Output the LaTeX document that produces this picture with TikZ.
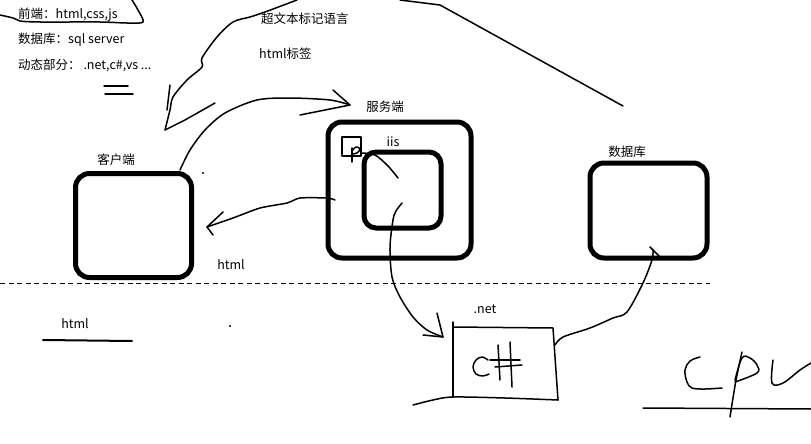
\documentclass[tikz,border=0pt]{standalone}
\usepackage{fontspec}
\setmainfont{Noto Sans CJK SC}
\begin{document}
\begin{tikzpicture}[x=1pt,y=-1pt,
  box/.style={draw, line width=5pt, rounded corners=14pt, inner sep=0pt},
  lbl/.style={font=\fontsize{12.5}{14}\selectfont, inner sep=0pt, anchor=west},
  pen/.style={line width=1.5pt, line cap=round, line join=round},
]
\useasboundingbox (0,0) rectangle (811,444);

% legend text
\node[lbl] (front) at (18,15) {前端：html,css,js};
\node[lbl] (db) at (18,40) {数据库：sql server};
\node[lbl] (dyn) at (18,65) {动态部分： .net,c\#,vs ...};
\node[lbl] (hyper) at (261,19) {超文本标记语言};
\node[lbl] (tag) at (259,54) {html标签};

% boxes
\node[box, minimum width=116pt, minimum height=104pt] (client) at (133.5,225.5) {};
\node[lbl, anchor=center] (clientl) at (116,160) {客户端};
\node[box, minimum width=143pt, minimum height=136pt] (server) at (399.5,190) {};
\node[lbl, anchor=center] (serverl) at (385,107) {服务端};
\node[box, rounded corners=12pt, minimum width=77pt, minimum height=76pt] (iisbox) at (402.5,190) {};
\node[lbl, anchor=center] (iisl) at (393,142) {iis};
\node[box, minimum width=117pt, minimum height=95pt] (dbbox) at (648.5,210.5) {};
\node[lbl, anchor=center] (dbl) at (627,152) {数据库};

\node[lbl, anchor=center] (html1) at (231,265) {html};
\node[lbl, anchor=center] (html2) at (75,324) {html};
\node[lbl, anchor=center] (net) at (485,309) {.net};

% dashed separator
\draw[line width=0.8pt, dash pattern=on 5pt off 3.5pt] (0,283) -- (710,283);

% scribble under first line
\draw[pen] plot[smooth, tension=0.5] coordinates {(0,15) (13,18) (20,21) (40,22) (100,22) (127,23) (143,22) (138,10) (132,0)};
% "=" mark
\draw[pen] (104,86) -- (128,86);
\draw[pen] (105,94) -- (133,94);

% big curve from top down to client
\draw[pen] plot[smooth, tension=0.5] coordinates {(297,0) (265,12) (250,17) (233,22) (217,37) (202,58) (202,67) (187,80) (173,97) (170,110) (165,130)};
\draw[pen] (170,85) -- (167,110);
\draw[pen] (165,130) -- (185,120) -- (215,103);
% long line top right
\draw[pen] (400,0) -- (440,5) -- (623,106);

% client -> server
\coordinate (c1) at (180,170);
\coordinate (s1) at (350,105);
\draw[pen] plot[smooth, tension=0.5] coordinates {(c1) (190,150) (205,130) (225,113) (257,100) (290,98) (330,100) (s1)};
\draw[pen] (333,90) -- (s1) -- (300,115);

% server -> client (html)
\coordinate (s2) at (335,200);
\coordinate (c2) at (207,227);
\draw[pen] plot[smooth, tension=0.4] coordinates {(s2) (327,198) (300,198) (287,203) (260,208) (233,218) (c2)};
\draw[pen] (223,212) -- (c2) -- (213,235);

% small square with P
\draw[pen] (342,137) rectangle (361,156);
\draw[pen] (352,162) -- (352,148);
\draw[pen] plot[smooth, tension=0.6] coordinates {(352,151) (356,147) (360,149) (357,153) (352,154)};
\draw[pen] plot[smooth, tension=0.5] coordinates {(361,153) (375,155) (388,166) (398,178)};

% iis -> C#
\coordinate (i1) at (402,203);
\coordinate (n1) at (443,337);
\draw[pen] plot[smooth, tension=0.5] coordinates {(i1) (396,211) (393,220) (390,247) (392,277) (400,297) (413,317) (427,330) (n1)};
\draw[pen] (437,313) -- (n1) -- (423,335);

% C# box
\draw[pen] (453,322) -- (453,397);
\draw[pen] (453,327) -- (553,328) -- (558,400);
\draw[pen] plot[smooth, tension=0.5] coordinates {(413,405) (433,400) (453,397) (505,398) (558,400)};
% C#
\draw[pen] plot[smooth, tension=0.6] coordinates {(488,360) (482,357) (476,360) (473,367) (476,374) (483,376) (489,374)};
\draw[pen] (498,345) -- (500,380);
\draw[pen] (510,342) -- (512,387);
\draw[pen] (490,360) -- (520,360);
\draw[pen] (495,367) -- (522,365);

% C# -> database
\coordinate (n2) at (555,345);
\coordinate (d1) at (653,250);
\draw[pen] plot[smooth, tension=0.5] coordinates {(n2) (563,337) (590,328) (613,318) (627,312) (643,283) (652,260) (d1)};
\draw[pen] (650,247) -- (662,259);

% html underline
\draw[line width=2pt, line cap=round] (43,340) -- (132,341);

% dots
\fill (203,173) circle (1.2pt);
\fill (230,326) circle (1.2pt);

% CPU
\draw[pen] plot[smooth, tension=0.6] coordinates {(700,357) (690,361) (685,370) (687,382) (692,388) (705,389) (722,388)};
\draw[pen] plot[smooth, tension=0.5] coordinates {(742,352) (736,380) (730,417)};
\draw[pen] plot[smooth, tension=0.6] coordinates {(735,380) (742,358) (750,358) (757,365) (757,373) (735,382)};
\draw[pen] plot[smooth, tension=0.6] coordinates {(773,360) (772,383) (783,383) (800,370) (811,363)};
\draw[pen] (643,408) -- (811,409);
\end{tikzpicture}
\end{document}
